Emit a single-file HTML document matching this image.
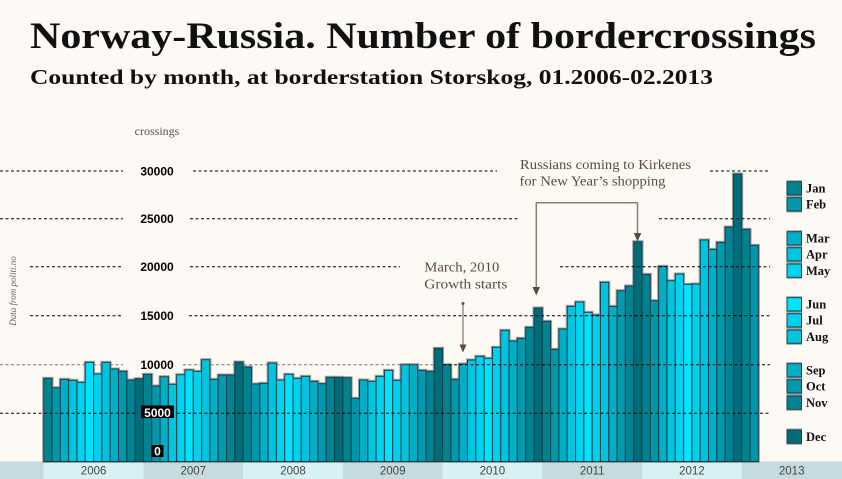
<!DOCTYPE html>
<html><head><meta charset="utf-8">
<style>
html,body{margin:0;padding:0;background:#fdf9f5;}
svg{display:block;}
.m0{fill:#00838f}.m1{fill:#0097aa}.m2{fill:#00afc7}.m3{fill:#00c5e0}.m4{fill:#00d3ef}.m5{fill:#00e2fd}
.m6{fill:#00d0ec}.m7{fill:#00c4df}.m8{fill:#00aec6}.m9{fill:#0099ae}.m10{fill:#008393}.m11{fill:#006c79}
.bars rect{stroke:#123f46;stroke-width:1}
.yl{font-family:"Liberation Sans",sans-serif;font-weight:bold;font-size:12px;text-anchor:middle;fill:#000}
.lg{font-family:"Liberation Serif",serif;font-weight:bold;font-size:12.5px;fill:#111}
.ann{font-family:"Liberation Serif",serif;font-size:14px;fill:#5b4b3c}
.yr{font-family:"Liberation Sans",sans-serif;font-size:11.5px;fill:#444;text-anchor:middle}
.g{stroke:#000;stroke-width:1;stroke-dasharray:3 2.5;fill:none}
</style></head>
<body>
<svg width="842" height="479" viewBox="0 0 842 479" xmlns="http://www.w3.org/2000/svg">
<defs>
<filter id="sh" x="-2%" y="-5%" width="104%" height="110%">
<feMorphology in="SourceAlpha" operator="dilate" radius="1" result="d"/>
<feFlood flood-color="#8c8c8c" flood-opacity="0.8"/>
<feComposite in2="d" operator="in" result="s"/>
<feMerge><feMergeNode in="s"/><feMergeNode in="SourceGraphic"/></feMerge>
</filter>
</defs>
<rect x="0" y="0" width="842" height="479" fill="#fdf9f5"/>

<!-- titles -->
<text x="30" y="48" font-family="Liberation Serif, serif" font-weight="bold" font-size="37" fill="#111" textLength="786" lengthAdjust="spacingAndGlyphs">Norway-Russia. Number of bordercrossings</text>
<text x="30" y="84" font-family="Liberation Serif, serif" font-weight="bold" font-size="21" fill="#111" textLength="683" lengthAdjust="spacingAndGlyphs">Counted by month, at borderstation Storskog, 01.2006-02.2013</text>

<text x="157" y="135" font-family="Liberation Serif, serif" font-size="12" fill="#555" text-anchor="middle">crossings</text>
<text transform="translate(16,291) rotate(-90)" font-family="Liberation Serif, serif" font-style="italic" font-size="9" fill="#666" text-anchor="middle">Data from politi.no</text>

<!-- x band -->
<rect x="0" y="461.5" width="43.7" height="17.5" fill="#c5dbdf"/>
<rect x="43.7" y="461.5" width="99.72" height="17.5" fill="#d8f1f4"/>
<rect x="143.42" y="461.5" width="99.72" height="17.5" fill="#c5dbdf"/>
<rect x="243.14" y="461.5" width="99.72" height="17.5" fill="#d8f1f4"/>
<rect x="342.86" y="461.5" width="99.72" height="17.5" fill="#c5dbdf"/>
<rect x="442.58" y="461.5" width="99.72" height="17.5" fill="#d8f1f4"/>
<rect x="542.3" y="461.5" width="99.72" height="17.5" fill="#c5dbdf"/>
<rect x="642.02" y="461.5" width="99.72" height="17.5" fill="#d8f1f4"/>
<rect x="741.74" y="461.5" width="100.26" height="17.5" fill="#c5dbdf"/>
<text class="yr" x="93.6" y="474.3">2006</text>
<text class="yr" x="193.3" y="474.3">2007</text>
<text class="yr" x="293" y="474.3">2008</text>
<text class="yr" x="392.7" y="474.3">2009</text>
<text class="yr" x="492.4" y="474.3">2010</text>
<text class="yr" x="592.2" y="474.3">2011</text>
<text class="yr" x="691.9" y="474.3">2012</text>
<text class="yr" x="791.7" y="474.3">2013</text>

<!-- gray 10000 line behind left bars -->
<path d="M0 364.7H123M183 364.7H443" stroke="#777" stroke-width="1" stroke-dasharray="3 2.5" fill="none"/>

<!-- bars -->
<g class="bars" filter="url(#sh)">
<rect class="m0" x="43.70" y="378.3" width="8.31" height="83.2"/>
<rect class="m1" x="52.01" y="387.7" width="8.31" height="73.8"/>
<rect class="m2" x="60.32" y="379.3" width="8.31" height="82.2"/>
<rect class="m3" x="68.63" y="380.3" width="8.31" height="81.2"/>
<rect class="m4" x="76.94" y="382.3" width="8.31" height="79.2"/>
<rect class="m5" x="85.25" y="362.3" width="8.31" height="99.2"/>
<rect class="m6" x="93.56" y="374" width="8.31" height="87.5"/>
<rect class="m7" x="101.87" y="362.3" width="8.31" height="99.2"/>
<rect class="m8" x="110.18" y="369" width="8.31" height="92.5"/>
<rect class="m9" x="118.49" y="371.3" width="8.31" height="90.2"/>
<rect class="m10" x="126.80" y="380" width="8.31" height="81.5"/>
<rect class="m11" x="135.11" y="378.7" width="8.31" height="82.8"/>
<rect class="m0" x="143.42" y="374.3" width="8.31" height="87.2"/>
<rect class="m1" x="151.73" y="386" width="8.31" height="75.5"/>
<rect class="m2" x="160.04" y="376.7" width="8.31" height="84.8"/>
<rect class="m3" x="168.35" y="384.3" width="8.31" height="77.2"/>
<rect class="m4" x="176.66" y="374.7" width="8.31" height="86.8"/>
<rect class="m5" x="184.97" y="370" width="8.31" height="91.5"/>
<rect class="m6" x="193.28" y="371.3" width="8.31" height="90.2"/>
<rect class="m7" x="201.59" y="359.7" width="8.31" height="101.8"/>
<rect class="m8" x="209.90" y="379.3" width="8.31" height="82.2"/>
<rect class="m9" x="218.21" y="375" width="8.31" height="86.5"/>
<rect class="m10" x="226.52" y="375" width="8.31" height="86.5"/>
<rect class="m11" x="234.83" y="362" width="8.31" height="99.5"/>
<rect class="m0" x="243.14" y="367" width="8.31" height="94.5"/>
<rect class="m1" x="251.45" y="384" width="8.31" height="77.5"/>
<rect class="m2" x="259.76" y="383.3" width="8.31" height="78.2"/>
<rect class="m3" x="268.07" y="363" width="8.31" height="98.5"/>
<rect class="m4" x="276.38" y="380" width="8.31" height="81.5"/>
<rect class="m5" x="284.69" y="374.3" width="8.31" height="87.2"/>
<rect class="m6" x="293.00" y="378.3" width="8.31" height="83.2"/>
<rect class="m7" x="301.31" y="376.3" width="8.31" height="85.2"/>
<rect class="m8" x="309.62" y="381.3" width="8.31" height="80.2"/>
<rect class="m9" x="317.93" y="383.7" width="8.31" height="77.8"/>
<rect class="m10" x="326.24" y="377.3" width="8.31" height="84.2"/>
<rect class="m11" x="334.55" y="377.3" width="8.31" height="84.2"/>
<rect class="m0" x="342.86" y="377.7" width="8.31" height="83.8"/>
<rect class="m1" x="351.17" y="398.3" width="8.31" height="63.2"/>
<rect class="m2" x="359.48" y="380" width="8.31" height="81.5"/>
<rect class="m3" x="367.79" y="381.3" width="8.31" height="80.2"/>
<rect class="m4" x="376.10" y="376.3" width="8.31" height="85.2"/>
<rect class="m5" x="384.41" y="370.3" width="8.31" height="91.2"/>
<rect class="m6" x="392.72" y="380.3" width="8.31" height="81.2"/>
<rect class="m7" x="401.03" y="364.7" width="8.31" height="96.8"/>
<rect class="m8" x="409.34" y="364.7" width="8.31" height="96.8"/>
<rect class="m9" x="417.65" y="370.3" width="8.31" height="91.2"/>
<rect class="m10" x="425.96" y="371.3" width="8.31" height="90.2"/>
<rect class="m11" x="434.27" y="348.3" width="8.31" height="113.2"/>
<rect class="m0" x="442.58" y="364.7" width="8.31" height="96.8"/>
<rect class="m1" x="450.89" y="379.3" width="8.31" height="82.2"/>
<rect class="m2" x="459.20" y="364" width="8.31" height="97.5"/>
<rect class="m3" x="467.51" y="360" width="8.31" height="101.5"/>
<rect class="m4" x="475.82" y="356.3" width="8.31" height="105.2"/>
<rect class="m5" x="484.13" y="358.3" width="8.31" height="103.2"/>
<rect class="m6" x="492.44" y="347.3" width="8.31" height="114.2"/>
<rect class="m7" x="500.75" y="330.3" width="8.31" height="131.2"/>
<rect class="m8" x="509.06" y="341" width="8.31" height="120.5"/>
<rect class="m9" x="517.37" y="338.3" width="8.31" height="123.2"/>
<rect class="m10" x="525.68" y="327.3" width="8.31" height="134.2"/>
<rect class="m11" x="533.99" y="308" width="8.31" height="153.5"/>
<rect class="m0" x="542.30" y="321.3" width="8.31" height="140.2"/>
<rect class="m1" x="550.61" y="349.3" width="8.31" height="112.2"/>
<rect class="m2" x="558.92" y="329" width="8.31" height="132.5"/>
<rect class="m3" x="567.23" y="306.3" width="8.31" height="155.2"/>
<rect class="m4" x="575.54" y="302" width="8.31" height="159.5"/>
<rect class="m5" x="583.85" y="312.3" width="8.31" height="149.2"/>
<rect class="m6" x="592.16" y="315" width="8.31" height="146.5"/>
<rect class="m7" x="600.47" y="282.3" width="8.31" height="179.2"/>
<rect class="m8" x="608.78" y="306.3" width="8.31" height="155.2"/>
<rect class="m9" x="617.09" y="290.7" width="8.31" height="170.8"/>
<rect class="m10" x="625.40" y="286" width="8.31" height="175.5"/>
<rect class="m11" x="633.71" y="241.7" width="8.31" height="219.8"/>
<rect class="m0" x="642.02" y="274.3" width="8.31" height="187.2"/>
<rect class="m1" x="650.33" y="300.7" width="8.31" height="160.8"/>
<rect class="m2" x="658.64" y="266.3" width="8.31" height="195.2"/>
<rect class="m3" x="666.95" y="280.7" width="8.31" height="180.8"/>
<rect class="m4" x="675.26" y="274" width="8.31" height="187.5"/>
<rect class="m5" x="683.57" y="284.3" width="8.31" height="177.2"/>
<rect class="m6" x="691.88" y="284" width="8.31" height="177.5"/>
<rect class="m7" x="700.19" y="240" width="8.31" height="221.5"/>
<rect class="m8" x="708.50" y="249.3" width="8.31" height="212.2"/>
<rect class="m9" x="716.81" y="242.3" width="8.31" height="219.2"/>
<rect class="m10" x="725.12" y="227" width="8.31" height="234.5"/>
<rect class="m11" x="733.43" y="174" width="8.31" height="287.5"/>
<rect class="m0" x="741.74" y="229.3" width="8.31" height="232.2"/>
<rect class="m1" x="750.05" y="245.3" width="8.31" height="216.2"/>
</g>

<!-- gridlines over bars -->
<path class="g" d="M0 171H123M193 171H497M710 171H770"/>
<path class="g" d="M0 218.7H123M190 218.7H520M659 218.7H770"/>
<path class="g" d="M30 266.7H123M190 266.7H400M560 266.7H770"/>
<path class="g" d="M30 315.7H123M189 315.7H770"/>
<path class="g" d="M443 364.7H770" stroke="#222"/>
<path class="g" d="M0 413.3H138M177 413.3H770"/>

<!-- y labels -->
<text class="yl" x="157" y="175.5">30000</text>
<text class="yl" x="157" y="223.2">25000</text>
<text class="yl" x="157" y="271.2">20000</text>
<text class="yl" x="157" y="320.2">15000</text>
<text class="yl" x="157" y="369.2">10000</text>
<rect x="141" y="405.5" width="33" height="12.5" fill="#000"/>
<text class="yl" x="157.5" y="417" fill="#fff" style="fill:#fff">5000</text>
<rect x="151.5" y="445" width="12" height="12" fill="#000"/>
<text class="yl" x="157.5" y="455.5" style="fill:#fff">0</text>

<!-- annotations -->
<text class="ann" x="520" y="169" textLength="171" lengthAdjust="spacingAndGlyphs">Russians coming to Kirkenes</text>
<text class="ann" x="519.5" y="185.7" textLength="146" lengthAdjust="spacingAndGlyphs">for New Year’s shopping</text>
<path d="M536.3 288V202.7H637.5V234" stroke="#8c8073" stroke-width="1.5" fill="none"/>
<path d="M532.5 287L540 287L536.3 295.5Z" fill="#5b4b3c"/>
<path d="M633.8 233L641.3 233L637.5 241.5Z" fill="#5b4b3c"/>

<text class="ann" x="424.3" y="271.7" textLength="75" lengthAdjust="spacingAndGlyphs">March, 2010</text>
<text class="ann" x="424.3" y="288.3" textLength="83" lengthAdjust="spacingAndGlyphs">Growth starts</text>
<path d="M463 303.5V345" stroke="#8c8073" stroke-width="1.3" fill="none"/>
<circle cx="463" cy="303.5" r="1.5" fill="#5b4b3c"/>
<path d="M459.5 344.5L466.5 344.5L463 352.5Z" fill="#5b4b3c"/>

<!-- legend -->
<g filter="url(#sh)" stroke="#163f45" stroke-width="1">
<rect x="787" y="181.7" width="14.5" height="13.3" class="m0"/>
<rect x="787" y="197.7" width="14.5" height="13.3" class="m1"/>
<rect x="787" y="231.7" width="14.5" height="13.3" class="m2"/>
<rect x="787" y="247.7" width="14.5" height="13.3" class="m3"/>
<rect x="787" y="264" width="14.5" height="13.3" class="m4"/>
<rect x="787" y="297.7" width="14.5" height="13.3" class="m5"/>
<rect x="787" y="313.7" width="14.5" height="13.3" class="m6"/>
<rect x="787" y="330" width="14.5" height="13.3" class="m7"/>
<rect x="787" y="363.7" width="14.5" height="13.3" class="m8"/>
<rect x="787" y="379.7" width="14.5" height="13.3" class="m9"/>
<rect x="787" y="396" width="14.5" height="13.3" class="m10"/>
<rect x="787" y="430" width="14.5" height="13.3" class="m11"/>
</g>
<text class="lg" x="806" y="192.5">Jan</text>
<text class="lg" x="806" y="208.5">Feb</text>
<text class="lg" x="806" y="242.5">Mar</text>
<text class="lg" x="806" y="258.5">Apr</text>
<text class="lg" x="806" y="274.8">May</text>
<text class="lg" x="806" y="308.5">Jun</text>
<text class="lg" x="806" y="324.5">Jul</text>
<text class="lg" x="806" y="340.8">Aug</text>
<text class="lg" x="806" y="374.5">Sep</text>
<text class="lg" x="806" y="390.5">Oct</text>
<text class="lg" x="806" y="406.8">Nov</text>
<text class="lg" x="806" y="440.8">Dec</text>
</svg>
</body></html>
